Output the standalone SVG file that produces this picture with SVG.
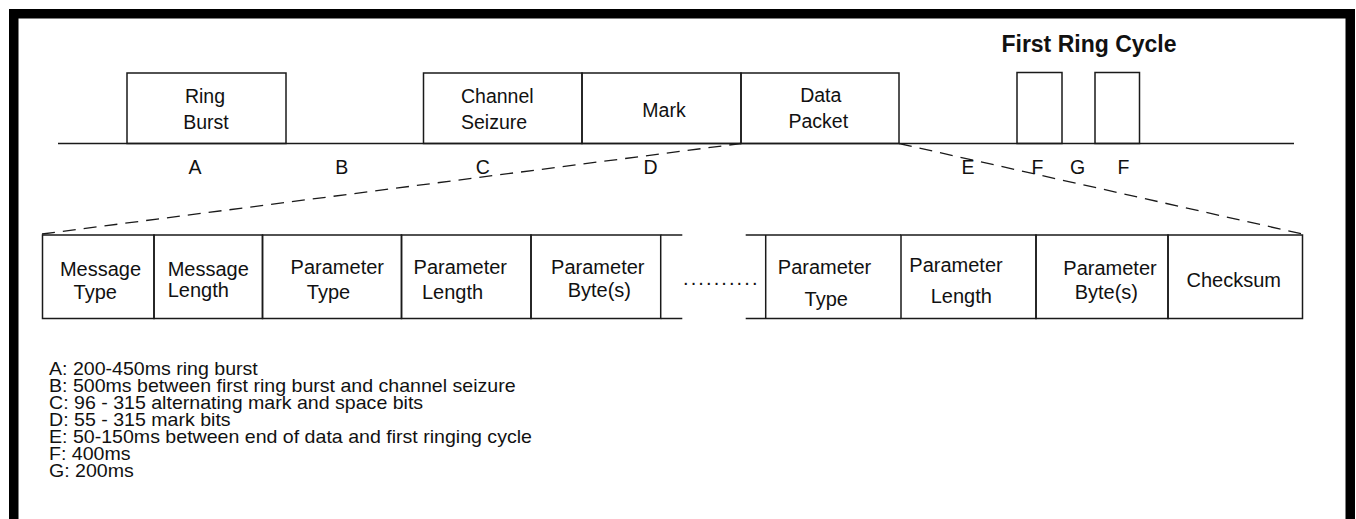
<svg xmlns="http://www.w3.org/2000/svg" width="1356" height="519" viewBox="0 0 1356 519">
  <style>
    .frame { fill: none; stroke: #000; stroke-width: 9.5; }
    .box { fill: none; stroke: #1a1a1a; stroke-width: 1.5; }
    .ln { fill: none; stroke: #1a1a1a; stroke-width: 1.5; }
    .dash { fill: none; stroke: #1a1a1a; stroke-width: 1.3; stroke-dasharray: 13 8; }
    .t { font-family: "Liberation Sans", Arial, sans-serif; font-size: 19.5px; fill: #111; }
    .tb { font-family: "Liberation Sans", Arial, sans-serif; font-size: 20px; fill: #111; }
    .c { text-anchor: middle; }
    .title { font-family: "Liberation Sans", Arial, sans-serif; font-size: 23px; font-weight: bold; fill: #111; text-anchor: middle; }
    .leg { font-family: "Liberation Sans", Arial, sans-serif; font-size: 18.3px; fill: #111; }
  </style>
  <rect width="1356" height="519" fill="#fff"/>
  <rect class="frame" x="13.75" y="13.75" width="1336.5" height="600"/>

  <g id="title">
    <text class="title" x="1089" y="52">First Ring Cycle</text>
  </g>

  <g id="connectors">
    <line class="ln" x1="58" y1="143.5" x2="1294" y2="143.5"/>
    <line class="dash" x1="42" y1="234" x2="741" y2="143.5"/>
    <line class="dash" x1="899" y1="143.5" x2="1302.5" y2="234"/>
  </g>

  <g id="ring-burst">
    <rect class="box" x="127" y="73" width="159" height="70.5"/>
    <text class="t c" x="205" y="102.5">Ring</text>
    <text class="t c" x="206" y="128.5">Burst</text>
  </g>
  <g id="channel-seizure">
    <rect class="box" x="423.5" y="73" width="158.5" height="70.5"/>
    <text class="t" x="461" y="103.3">Channel</text>
    <text class="t" x="461" y="129">Seizure</text>
  </g>
  <g id="mark">
    <rect class="box" x="582" y="73" width="159" height="70.5"/>
    <text class="t c" x="664" y="117.3">Mark</text>
  </g>
  <g id="data-packet">
    <rect class="box" x="741" y="73" width="158" height="70.5"/>
    <text class="t c" x="820.8" y="102.3">Data</text>
    <text class="t c" x="818.3" y="128.3">Packet</text>
  </g>
  <g id="ring-f1">
    <rect class="box" x="1017" y="72.5" width="45" height="71"/>
  </g>
  <g id="ring-f2">
    <rect class="box" x="1095" y="72.5" width="44.5" height="71"/>
  </g>

  <g id="interval-labels">
    <text class="t c" x="195" y="173.5">A</text>
    <text class="t c" x="341.7" y="173.5">B</text>
    <text class="t c" x="482.7" y="173.5">C</text>
    <text class="t c" x="650.5" y="173.5">D</text>
    <text class="t c" x="968" y="173.5">E</text>
    <text class="t c" x="1037.5" y="173.5">F</text>
    <text class="t c" x="1077.5" y="173.5">G</text>
    <text class="t c" x="1123.5" y="173.5">F</text>
  </g>

  <g id="message-type">
    <rect class="box" x="42.5" y="235" width="111.5" height="83.5"/>
    <text class="tb c" x="100.5" y="276">Message</text>
    <text class="tb c" x="95.3" y="299">Type</text>
  </g>
  <g id="message-length">
    <rect class="box" x="154" y="235" width="108.5" height="83.5"/>
    <text class="tb" x="167.7" y="276">Message</text>
    <text class="tb" x="167.7" y="297">Length</text>
  </g>
  <g id="parameter-type-1">
    <rect class="box" x="262.5" y="235" width="139" height="83.5"/>
    <text class="tb c" x="337.3" y="273.5">Parameter</text>
    <text class="tb c" x="328.5" y="299">Type</text>
  </g>
  <g id="parameter-length-1">
    <rect class="box" x="401.5" y="235" width="129.5" height="83.5"/>
    <text class="tb c" x="460.3" y="274">Parameter</text>
    <text class="tb c" x="452.5" y="299">Length</text>
  </g>
  <g id="parameter-bytes-1">
    <rect class="box" x="531" y="235" width="129.7" height="83.5"/>
    <line class="ln" x1="660.7" y1="235" x2="682.3" y2="235"/>
    <line class="ln" x1="660.7" y1="318.5" x2="682.3" y2="318.5"/>
    <text class="tb c" x="597.8" y="274">Parameter</text>
    <text class="tb c" x="599.3" y="297">Byte(s)</text>
  </g>
  <g id="ellipsis">
    <text class="tb" x="683" y="285" letter-spacing="2.1">..........</text>
  </g>
  <g id="parameter-type-2">
    <line class="ln" x1="745.7" y1="235" x2="901" y2="235"/>
    <line class="ln" x1="745.7" y1="318.5" x2="901" y2="318.5"/>
    <line class="ln" x1="765.7" y1="235" x2="765.7" y2="318.5" stroke-width="2.6"/>
    <text class="tb c" x="824.5" y="274">Parameter</text>
    <text class="tb c" x="826.3" y="306">Type</text>
  </g>
  <g id="parameter-length-2">
    <rect class="box" x="901" y="235" width="135" height="83.5"/>
    <text class="tb c" x="956" y="272.3">Parameter</text>
    <text class="tb c" x="961.3" y="303">Length</text>
  </g>
  <g id="parameter-bytes-2">
    <rect class="box" x="1036" y="235" width="132" height="83.5"/>
    <text class="tb c" x="1110" y="275">Parameter</text>
    <text class="tb c" x="1106.3" y="299">Byte(s)</text>
  </g>
  <g id="checksum">
    <rect class="box" x="1168" y="235" width="134.5" height="83.5"/>
    <text class="tb c" x="1233.7" y="287">Checksum</text>
  </g>

  <g id="legend" transform="scale(1.07,1)">
    <text class="leg" x="45.8" y="375">A: 200-450ms ring burst</text>
    <text class="leg" x="45.8" y="392">B: 500ms between first ring burst and channel seizure</text>
    <text class="leg" x="45.8" y="409">C: 96 - 315 alternating mark and space bits</text>
    <text class="leg" x="45.8" y="426">D: 55 - 315 mark bits</text>
    <text class="leg" x="45.8" y="443">E: 50-150ms between end of data and first ringing cycle</text>
    <text class="leg" x="45.8" y="460">F: 400ms</text>
    <text class="leg" x="45.8" y="477">G: 200ms</text>
  </g>
</svg>
